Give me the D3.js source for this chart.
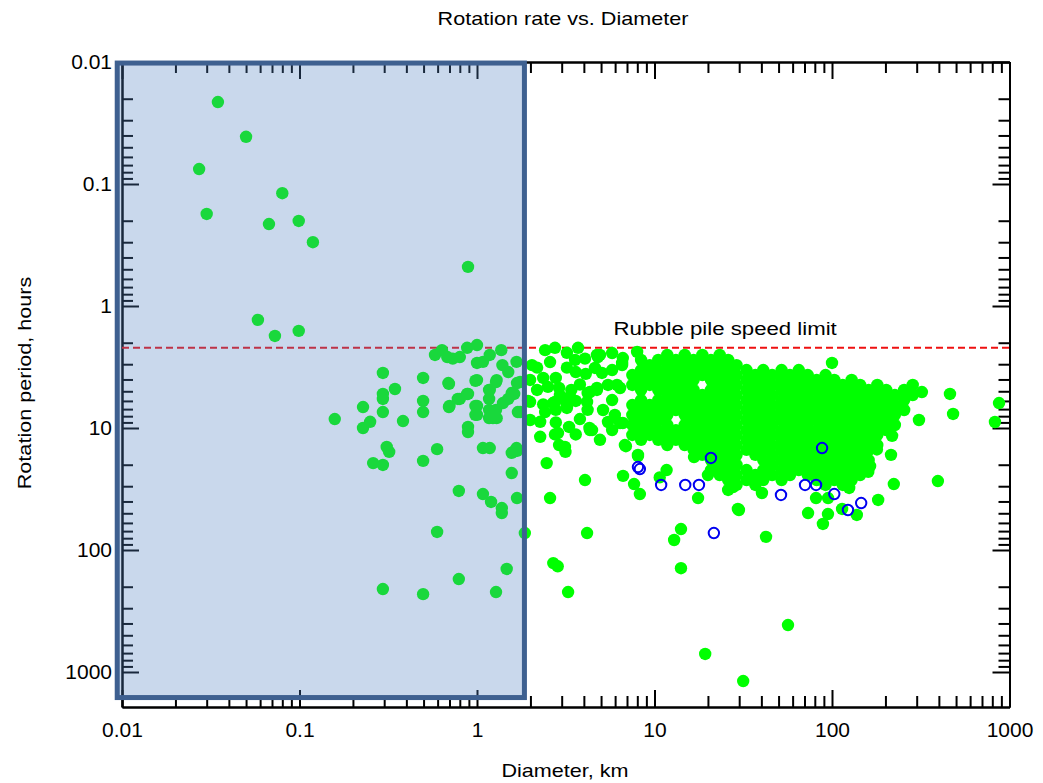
<!DOCTYPE html>
<html><head><meta charset="utf-8">
<script src="https://cdn.jsdelivr.net/npm/d3@7"></script>
<style>
html,body{margin:0;padding:0;background:#fff;}
svg{display:block;}
text{font-family:"Liberation Sans",Arial,Helvetica,sans-serif;fill:#000;}
</style>
</head><body>
<svg id="chart" width="1043" height="783"></svg>
<script>
// ---------- data ----------
const titleText = "Rotation rate vs. Diameter";
const xLabelText = "Diameter, km";
const yLabelText = "Rotation period, hours";
const limitLabel = "Rubble pile speed limit";
const xDomain = [0.01, 1000];
const yDomain = [0.01, 1936];
const xTickValues = [0.01, 0.1, 1, 10, 100, 1000];
const xTickLabels = ["0.01", "0.1", "1", "10", "100", "1000"];
const yTickValues = [0.01, 0.1, 1, 10, 100, 1000];
const yTickLabels = ["0.01", "0.1", "1", "10", "100", "1000"];
const speedLimitHours = 2.2;
const limitLabelDiameter = 25;
const highlightBox = { dMin: 0.0094, dMax: 1.85, pMin: 0.0102, pMax: 1620 };

// small bodies (inside highlighted region): [diameter km, period h]
const smallBodies = [
[0.0347,0.0213],[0.05,0.041],[0.0272,0.0754],[0.08,0.119],[0.03,0.176],[0.0673,0.213],[0.099,0.201],[0.119,0.30],[0.89,0.478],[0.0583,1.30],[0.0727,1.76],[0.099,1.60],
[0.295,3.54],[0.497,3.89],[0.345,4.79],[0.695,4.35],[0.98,4.1],[1.28,4.2],[0.295,5.26],[0.295,5.78],[0.497,6.0],[0.228,6.73],[0.295,7.4],[0.497,7.4],[0.158,8.44],[0.25,8.9],[0.228,10],[0.383,8.77],[0.695,6.73],[0.80,5.78],[0.89,5.26],[0.98,6.6],[0.98,7.8],[1.17,4.88],[1.17,5.78],[1.17,7.1],[1.17,8.28],[1.29,4.05],[1.29,8.3],[1.40,6.24],[1.57,5.17],[1.68,4.28],[1.75,7.4],[0.89,9.8],[0.89,10.8],[0.31,14.3],[0.32,15.7],[0.596,14.9],[0.26,19.4],[0.295,20.1],[0.497,18.6],[1.08,14.6],[1.18,14.6],[1.57,16.0],[1.68,15.4],[1.57,23.4],[0.79,32.8],[1.08,34.8],[1.2,40.4],[1.38,45.3],[1.38,49.8],[1.68,37.5],[0.596,71.1],[1.86,72.6],[1.47,143],[0.79,173],[0.295,209],[0.497,230],[1.28,221],
[0.58,2.52],[0.635,2.30],[0.68,2.62],[0.73,2.70],[0.80,2.62],[0.88,2.2],[1.0,2.09],[1.0,2.93],[1.08,2.87],[1.18,2.52],[1.37,2.30],[1.39,3.05],[1.5,3.48],[1.67,2.87],[0.69,4.28],[1.0,4.05],[1.18,4.88],[1.5,5.78],[1.62,5.26],[0.70,6.6],[0.78,5.78],[0.88,5.26],[1.0,6.6],[1.0,7.8],[1.23,8.3],[1.28,7.1],[1.6,15.7],[1.67,14.6],[1.7,7.4],[1.75,4.2]
];

// larger bodies, scattered: [diameter km, period h]
const largeBodies = [
[2.42,2.30],[2.75,2.2],[3.21,2.42],[3.71,2.2],[4.06,2.70],[4.74,2.52],[2.04,3.05],[2.18,3.2],[2.36,3.89],[2.78,3.89],[3.21,3.2],[3.6,3.48],[4.1,3.6],[2.18,4.88],[2.51,4.6],[2.9,4.7],[3.4,4.88],[3.8,4.4],[4.2,5.17],[4.74,4.7],[1.94,6.0],[2.36,6.4],[2.68,6.24],[3.15,6.0],[3.6,6.0],[4.2,7.1],[2.42,7.4],[2.78,7.1],[3.21,6.6],[2.27,8.9],[2.78,9.0],[3.8,8.44],[4.3,10],[3.3,9.8],[3.6,11.3],[2.27,11.8],[2.75,11.3],[2.9,13.8],[3.15,15.7],[2.47,19.4],[4.06,26.7],
[4.93,2.52],[5.77,2.43],[6.57,2.93],[7.98,2.38],[1.99,6.11],[5.06,3.54],[6.15,4.44],[5.13,7.12],[6.4,9.1],[6.9,14.1],[3.13,14.3],[2.86,11.0],[4.33,10.4],[3.34,5.57],[4.17,6.11],[2.75,6.11],[3.21,6.85],
[4.8,2.62],[6.63,2.67],[6.57,3.05],[4.74,4.88],[5.47,4.44],[6.4,4.7],[5.98,7.82],[6.63,9.1],[5.47,8.93],[4.45,10.4],[6.81,13.8],[8.07,16.6],
[2.58,2.88],[3.57,2.77],[4.62,3.22],[2.93,5.37],[4.33,5.07],[1.99,4.04],[5.77,5.9],[5.77,3.35],[1.99,8.6],[4.93,12.5],[5.77,10.4],
[2.58,37.5],[4.17,72.6],[2.69,128],[2.85,136],[3.26,221],[6.65,24.7],[7.67,28.8],[8.27,34.8],[10.7,25.4],[14.1,67.3],[12.9,82.8],[14.1,141],[17.6,37.5],[11.7,22.1],[42.5,78],[56.5,412],[19.3,711],[31.6,1186],[29.5,46.1],[73.3,49.8],[94.9,50.7],[88.9,61.2],[114,46.1],[138,51.6],[182,38.9],[100,2.93],[462,5.26],[481,7.67],[873,6.24],[828,8.93],[309,8.6],[395,27.2],[223,28.8],[215,16.6],[218,11.6],[321,5.07],[164,20.5],[160,22.9],[179,15],[81.3,37.5],[95,37.5],[125,31],[8.07,17.0],[20,24.3],[16.7,17.3],[29.9,47],[27.7,30.5],[40.3,34.1]
];

// dense main-belt cloud, read column by column: diameter km and the periods (h) in that column
const denseDiameters = [7.5, 8.4, 9.4, 10.5, 11.8, 13.2, 14.8, 16.6, 18.6, 20.8, 23.3, 26, 29, 33, 37, 41, 46, 52, 58, 65, 73, 82, 92, 103, 115, 129, 144, 161, 180, 202, 226, 255, 285];
const densePeriods = [
[3.68,4.44,6.48,7.82,9.45,11.4],
[2.77,3.35,4.04,4.88,5.9,7.12,8.6,10.4,12.5],
[3.05,3.68,4.44,6.48,7.82,9.45,11.4],
[2.77,3.35,4.04,4.88,5.9,7.12,8.6,10.4,12.5],
[2.52,3.05,3.68,4.44,5.37,6.48,7.82,9.45,11.4,13.8],
[2.77,3.35,4.04,4.88,5.9,7.12,10.4,12.5],
[2.52,3.05,3.68,4.44,5.37,6.48,7.82,9.45,11.4,13.8],
[2.77,3.35,4.04,4.88,5.9,7.12,8.6,10.4,12.5,15.1],
[2.52,3.05,3.68,5.37,6.48,7.82,9.45,11.4,13.8,16.6],
[2.77,3.35,4.04,4.88,5.9,7.12,8.6,10.4,12.5,15.1,18.3,22.1],
[2.52,3.05,3.68,4.44,5.37,6.48,7.82,9.45,11.4,13.8,16.6,20.1,24.3],
[2.77,3.35,4.04,4.88,5.9,7.12,8.6,10.4,12.5,15.1,18.3,22.1,26.7,32.2],
[3.05,3.68,4.44,5.37,6.48,7.82,9.45,11.4,13.8,16.6,20.1,24.3,29.3],
[3.35,4.04,4.88,5.9,7.12,8.6,10.4,12.5,15.1,22.1,26.7],
[3.68,4.44,5.37,6.48,7.82,9.45,11.4,13.8,16.6,24.3,29.3],
[3.35,4.04,4.88,5.9,7.12,8.6,10.4,12.5,15.1,18.3,22.1,26.7],
[3.68,4.44,5.37,6.48,7.82,9.45,11.4,13.8,16.6,20.1,24.3],
[3.35,4.04,4.88,5.9,7.12,8.6,10.4,12.5,15.1,18.3,22.1,26.7],
[3.68,4.44,5.37,6.48,7.82,9.45,11.4,13.8,16.6,20.1,24.3],
[3.35,4.04,4.88,5.9,7.12,8.6,10.4,12.5,15.1,18.3,22.1],
[3.68,4.44,5.37,6.48,7.82,9.45,11.4,13.8,16.6,20.1,24.3],
[4.04,4.88,5.9,7.12,8.6,10.4,12.5,15.1,18.3,22.1,26.7],
[3.68,4.44,5.37,6.48,7.82,9.45,11.4,13.8,16.6,20.1,24.3,29.3],
[4.04,4.88,5.9,7.12,8.6,10.4,12.5,15.1,18.3,22.1,26.7],
[4.44,5.37,6.48,7.82,9.45,11.4,13.8,16.6,20.1,24.3,29.3],
[4.04,4.88,5.9,7.12,8.6,10.4,12.5,15.1,18.3,22.1,26.7],
[4.44,5.37,6.48,7.82,9.45,11.4,13.8,16.6,20.1,24.3],
[4.88,5.9,7.12,8.6,10.4,12.5,15.1,18.3],
[4.44,5.37,6.48,7.82,9.45,11.4,13.8],
[4.88,5.9,7.12,8.6,10.4],
[5.37,6.48,7.82,9.45],
[4.88,5.9,7.12],
[4.44,5.37]
];

// open blue circles: [diameter km, period h]
const binaries = [[8.07,20.9],[8.27,21.7],[10.9,29.3],[14.9,29.3],[17.8,29.3],[20.8,17.6],[21.6,72.6],[51.6,35.4],[70.5,29.3],[81.3,29.3],[87.9,14.6],[103,34.8],[123,47],[146,41.2]];

// ---------- drawing ----------
const svg = d3.select("#chart");
const x = d3.scaleLog().domain(xDomain).range([122, 1009.5]);
const y = d3.scaleLog().domain(yDomain).range([62, 707]);

function minorTicks(domain) {
  const out = [];
  for (let e = Math.round(Math.log10(domain[0])); e < Math.log10(domain[1]); e++) {
    for (let k = 2; k <= 9; k++) {
      const v = k * Math.pow(10, e);
      if (v > domain[0] && v < domain[1]) out.push(v);
    }
  }
  return out;
}
const xMinor = minorTicks(xDomain);
const yMinor = minorTicks(yDomain);
const MAJ = 17, MIN = 11;

function styleAxis(g) {
  g.selectAll("path.domain").attr("stroke", "#000").attr("stroke-width", 2);
  g.selectAll(".tick line").attr("stroke", "#000").attr("stroke-width", 2);
  g.selectAll(".tick text").attr("font-size", 21).attr("fill", "#000")
    .style("font-family", '"Liberation Sans",Arial,sans-serif');
}

const axes = svg.append("g");
// bottom
axes.append("g").attr("transform", `translate(0,${y.range()[1]})`)
  .call(d3.axisBottom(x).tickValues(xMinor).tickSize(-MIN).tickSizeOuter(0).tickFormat("")).call(styleAxis);
axes.append("g").attr("transform", `translate(0,${y.range()[1]})`)
  .call(d3.axisBottom(x).tickValues(xTickValues).tickSize(-MAJ).tickSizeOuter(0).tickPadding(15)
    .tickFormat((d, i) => xTickLabels[i])).call(styleAxis);
// top
axes.append("g").attr("transform", `translate(0,${y.range()[0]})`)
  .call(d3.axisTop(x).tickValues(xMinor).tickSize(-MIN).tickSizeOuter(0).tickFormat("")).call(styleAxis);
axes.append("g").attr("transform", `translate(0,${y.range()[0]})`)
  .call(d3.axisTop(x).tickValues(xTickValues).tickSize(-MAJ).tickSizeOuter(0).tickFormat("")).call(styleAxis);
// left
axes.append("g").attr("transform", `translate(${x.range()[0]},0)`)
  .call(d3.axisLeft(y).tickValues(yMinor).tickSize(-MIN).tickSizeOuter(0).tickFormat("")).call(styleAxis);
axes.append("g").attr("transform", `translate(${x.range()[0]},0)`)
  .call(d3.axisLeft(y).tickValues(yTickValues).tickSize(-MAJ).tickSizeOuter(0).tickPadding(10)
    .tickFormat((d, i) => yTickLabels[i])).call(styleAxis);
// right
axes.append("g").attr("transform", `translate(${x.range()[1]},0)`)
  .call(d3.axisRight(y).tickValues(yMinor).tickSize(-MIN).tickSizeOuter(0).tickFormat("")).call(styleAxis);
axes.append("g").attr("transform", `translate(${x.range()[1]},0)`)
  .call(d3.axisRight(y).tickValues(yTickValues).tickSize(-MAJ).tickSizeOuter(0).tickFormat("")).call(styleAxis);

// speed limit line
svg.append("line")
  .attr("x1", x(xDomain[0])).attr("x2", x(xDomain[1]))
  .attr("y1", y(speedLimitHours)).attr("y2", y(speedLimitHours))
  .attr("stroke", "#ee1111").attr("stroke-width", 1.8).attr("stroke-dasharray", "7,4");

// green points
const allGreen = smallBodies.concat(largeBodies);
denseDiameters.forEach((d, i) => densePeriods[i].forEach(p => allGreen.push([d, p])));
svg.append("g").selectAll("circle").data(allGreen).join("circle")
  .attr("cx", d => x(d[0])).attr("cy", d => y(d[1])).attr("r", 6.2)
  .attr("fill", "#00ff00");

// blue open circles
svg.append("g").selectAll("circle").data(binaries).join("circle")
  .attr("cx", d => x(d[0])).attr("cy", d => y(d[1])).attr("r", 5.2)
  .attr("fill", "none").attr("stroke", "#0000f0").attr("stroke-width", 2);

// highlight overlay box
svg.append("rect")
  .attr("x", x(highlightBox.dMin)).attr("y", y(highlightBox.pMin))
  .attr("width", x(highlightBox.dMax) - x(highlightBox.dMin))
  .attr("height", y(highlightBox.pMax) - y(highlightBox.pMin))
  .attr("fill", "rgb(81,129,194)").attr("fill-opacity", 0.31)
  .attr("stroke", "#3e6090").attr("stroke-width", 5);

// texts
function stretchedText(tx, ty, rot, str, size, sx) {
  svg.append("text")
    .attr("transform", `translate(${tx},${ty}) rotate(${rot}) scale(${sx},1)`)
    .attr("text-anchor", "middle").attr("font-size", size).text(str);
}
stretchedText(563, 25, 0, titleText, 18, 1.2);
stretchedText(565, 777, 0, xLabelText, 18, 1.2);
stretchedText(31, 383, -90, yLabelText, 18, 1.2);
stretchedText(x(limitLabelDiameter), y(speedLimitHours) - 13, 0, limitLabel, 18.5, 1.2);
</script>
</body></html>
